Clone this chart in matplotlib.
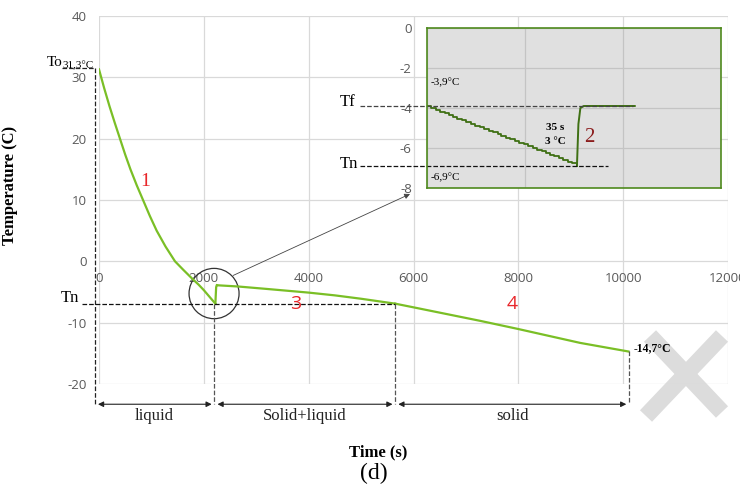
import matplotlib
matplotlib.use('Agg')
import matplotlib.pyplot as plt
from matplotlib.patches import Ellipse
from matplotlib.lines import Line2D

plt.rcParams['axes.unicode_minus'] = False

# cooling curve
phase1_t = [0, 100, 200, 300, 400, 500, 600, 720, 840, 970, 1100, 1270, 1450,
            1610, 1775, 1900, 2000, 2100, 2220]
phase1_T = [31.3, 28.2, 25.3, 22.6, 20.0, 17.4, 15.0, 12.4, 10.0, 7.4, 5.0, 2.4, 0.0,
            -1.4, -2.8, -3.8, -4.7, -5.7, -6.9]
jump_t = [2220, 2235, 2250]
jump_T = [-6.9, -4.2, -3.9]
phase3_t = [2250, 2650, 3200, 4000, 4500, 5000, 5650]
phase3_T = [-3.9, -4.1, -4.5, -5.1, -5.55, -6.1, -6.9]
phase4_t = [5650, 6000, 7270, 7980, 9180, 10100]
phase4_T = [-6.9, -7.5, -9.7, -11.0, -13.3, -14.7]

# zoomed detail (inset)
inset_t = [0.00, 0.04, 0.09, 0.13, 0.18, 0.22, 0.27, 0.31, 0.36, 0.40, 0.45, 0.49,
           0.54, 0.58, 0.63, 0.67, 0.72, 0.76, 0.81, 0.85, 0.90, 0.94, 0.99, 1.03,
           1.08, 1.12, 1.17, 1.21, 1.26, 1.30, 1.35, 1.39, 1.44, 1.48, 1.53]
inset_T = [-3.90, -4.02, -4.10, -4.19, -4.27, -4.36, -4.45, -4.53, -4.62, -4.70, -4.79, -4.88,
           -4.96, -5.05, -5.13, -5.22, -5.31, -5.39, -5.48, -5.56, -5.65, -5.74, -5.82, -5.91,
           -5.99, -6.08, -6.17, -6.25, -6.34, -6.42, -6.51, -6.60, -6.68, -6.77, -6.90]
inset_jump_t = [1.53, 1.545, 1.565, 1.60, 2.12]
inset_jump_T = [-6.90, -4.80, -4.00, -3.90, -3.90]

T0, Tf, Tn, Tend = 31.3, -3.9, -6.9, -14.7
bounds = [-80, 2200, 5650, 10110]
phases = ['liquid', 'Solid+liquid', 'solid']

green = '#7abf26'
tick_grey = '#595959'
grid_grey = '#d9d9d9'
serif = 'Liberation Serif'
sans = 'Open Sans'

fig = plt.figure(figsize=(7.4, 4.84), dpi=100)
ax = fig.add_axes([99/740, 1-384/484, 629/740, 368/484])
ax.patch.set_alpha(0)

ax.plot(phase1_t, phase1_T, color=green, lw=1.6)
ax.plot(jump_t, jump_T, color=green, lw=1.6)
ax.plot(phase3_t, phase3_T, color=green, lw=1.6)
ax.plot(phase4_t, phase4_T, color=green, lw=1.6)

ax.set_xlim(0, 12000)
ax.set_ylim(-20, 40)
ax.set_xticks(range(0, 12001, 2000))
ax.set_yticks(range(-20, 41, 10))
ax.grid(True, color=grid_grey, lw=0.9)
ax.set_axisbelow(True)
for s in ['top', 'right', 'left']:
    ax.spines[s].set_visible(False)
ax.spines['bottom'].set_position(('data', 0))
ax.spines['bottom'].set_visible(False)
ax.tick_params(axis='x', length=0, pad=8, labelsize=9.5, labelcolor=tick_grey)
ax.tick_params(axis='y', length=0, pad=9, labelsize=9.5, labelcolor=tick_grey)
for lab in ax.get_xticklabels() + ax.get_yticklabels():
    lab.set_fontfamily(sans)

# To / Tn guide lines
ax.plot([-700, bounds[0]], [T0 + 0.3, T0 + 0.3], ls='--', color='#222', lw=0.9, clip_on=False)
ax.plot([bounds[0], bounds[0]], [T0 + 0.3, -23.3], ls='--', color='#222', lw=0.9, clip_on=False)
ax.text(-700, 32.4, 'To', ha='right', va='center', fontsize=11, family=serif)
ax.text(-690, 32.0, '31,3°C', ha='left', va='center', fontsize=8, family=serif)
ax.plot([-330, bounds[2]], [Tn, Tn], ls='--', color='#111', lw=0.9, clip_on=False)
ax.text(-380, -5.9, 'Tn', ha='right', va='center', fontsize=12, family=serif)

ax.plot([bounds[1], bounds[1]], [Tn, -23.3], ls='--', color='#555', lw=0.9, clip_on=False)
ax.plot([bounds[2], bounds[2]], [Tn, -23.3], ls='--', color='#555', lw=0.9, clip_on=False)
ax.plot([bounds[3], bounds[3]], [Tend, -23.3], ls='--', color='#555', lw=0.9, clip_on=False)
ax.text(10190, -14.1, '-14,7°C', ha='left', va='center', fontsize=8.5,
        family=serif, fontweight='bold', zorder=5)

# phase arrows and labels
for i, name in enumerate(phases):
    a, b = bounds[i] + 60, bounds[i + 1] - 50
    ax.annotate('', xy=(b, -23.3), xytext=(a, -23.3),
                arrowprops=dict(arrowstyle='<|-|>', color='#222', lw=0.8,
                                mutation_scale=8, shrinkA=0, shrinkB=0),
                annotation_clip=False)
    ax.text((bounds[i] + bounds[i + 1]) / 2, -25.2, name, ha='center', va='center',
            fontsize=12, family=serif, color='#222')

# segment numbers
ax.text(880, 13.0, '1', color='#e8262a', fontsize=14, family=serif, ha='center', va='center')
ax.text(3760, -6.9, '3', color='#e8262a', fontsize=14, family=sans, ha='center', va='center')
ax.text(7880, -6.9, '4', color='#e8262a', fontsize=14, family=sans, ha='center', va='center')

# circle around the undercooling + pointer to inset
ax.add_patch(Ellipse((2195, -5.25), 954, 8.2, fill=False, ec='#333', lw=0.9, clip_on=False))
ax.annotate('', xy=(410/740, 1-194/484), xycoords='figure fraction',
            xytext=(2560, -2.3), textcoords='data',
            arrowprops=dict(arrowstyle='-|>', color='#444', lw=0.6,
                            mutation_scale=8, shrinkA=0, shrinkB=0))

ax.set_xlabel('Time (s)', fontsize=12, family=serif, fontweight='bold')
ax.xaxis.set_label_coords(0.444, -0.164)
ax.set_ylabel('Temperature (C)', fontsize=12, family=serif, fontweight='bold')
ax.yaxis.set_label_coords(-0.128, 0.54)
fig.text(374/740, 1-473/484, '(d)', ha='center', va='center', fontsize=17, family=serif)

# inset
ins = fig.add_axes([427/740, 1-188/484, 294/740, 160/484])
ins.set_facecolor('#e0e0e0')
ins.plot(inset_t, inset_T, color='#3f7014', lw=1.3, drawstyle='steps-post')
ins.plot(inset_jump_t, inset_jump_T, color='#3f7014', lw=1.4)
ins.set_xlim(0, 3)
ins.set_ylim(-8, 0)
ins.set_xticks([0, 1, 2, 3])
ins.set_yticks([0, -2, -4, -6, -8])
ins.grid(True, color='#c4c4c4', lw=0.9)
ins.set_axisbelow(True)
for s in ins.spines.values():
    s.set_color('#4f8a1e')
    s.set_linewidth(1.2)
ins.tick_params(axis='x', length=0, labelbottom=False)
ins.tick_params(axis='y', length=0, pad=11, labelsize=9.5, labelcolor=tick_grey)
for lab in ins.get_yticklabels():
    lab.set_fontfamily(sans)

ins.plot([-0.68, 2.10], [Tf, Tf], ls='--', color='#444', lw=0.9, clip_on=False)
ins.plot([-0.68, 1.85], [Tn, Tn], ls='--', color='#111', lw=0.9, clip_on=False)
ins.text(-0.73, -3.7, 'Tf', ha='right', va='center', fontsize=12, family=serif)
ins.text(-0.70, -6.8, 'Tn', ha='right', va='center', fontsize=12, family=serif)
ins.text(0.04, -2.75, '-3,9°C', ha='left', va='center', fontsize=8, family=serif)
ins.text(0.04, -7.5, '-6,9°C', ha='left', va='center', fontsize=8, family=serif)
ins.text(1.40, -4.95, '35 s', ha='right', va='center', fontsize=8, family=serif, fontweight='bold')
ins.text(1.42, -5.65, '3 °C', ha='right', va='center', fontsize=8, family=serif, fontweight='bold')
ins.text(1.66, -5.5, '2', ha='center', va='center', fontsize=15, family=serif, color='#8b1c1c')

# grey watermark cross, behind the chart
fig.add_artist(Line2D([650/740, 722/740], [1-336/484, 1-412/484], transform=fig.transFigure,
                      lw=12, color='#dcdcdc', solid_capstyle='butt', zorder=-1))
fig.add_artist(Line2D([722/740, 646/740], [1-336/484, 1-416/484], transform=fig.transFigure,
                      lw=12, color='#dcdcdc', solid_capstyle='butt', zorder=-1))

fig.savefig('out.png', dpi=100)
